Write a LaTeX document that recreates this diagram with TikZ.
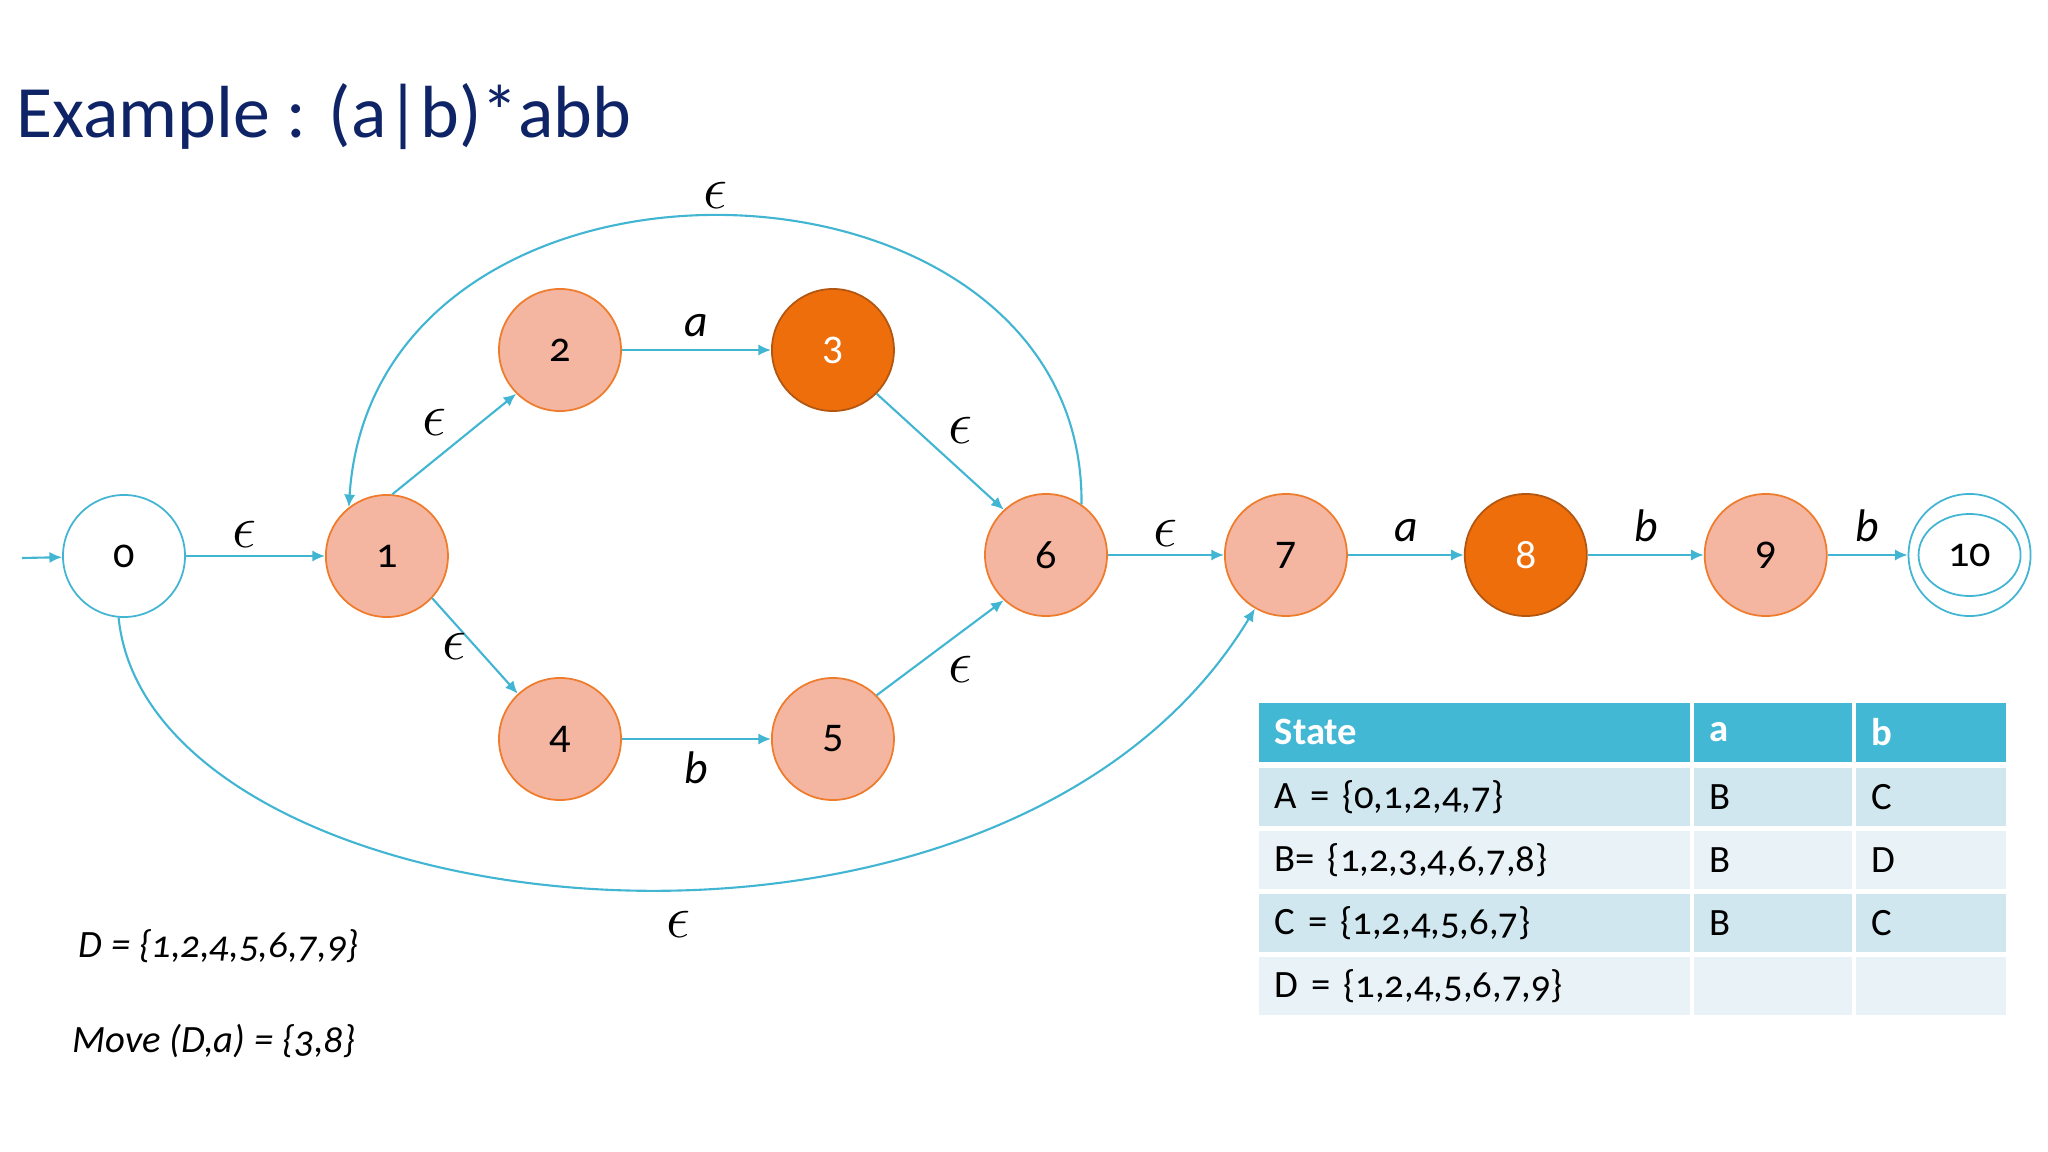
\documentclass[tikz,border=0pt]{standalone}
\usepackage{fontspec}
\setmainfont{Carlito}[Numbers=OldStyle]
\usepackage{tikz}
\usetikzlibrary{arrows.meta,positioning}

\definecolor{navy}{HTML}{0F2466}
\definecolor{linkblue}{HTML}{42B5D3}
\definecolor{nodefill}{HTML}{F4B5A1}
\definecolor{nodeedge}{HTML}{EE7C2C}
\definecolor{hotfill}{HTML}{EE6E0C}
\definecolor{hotedge}{HTML}{B3560F}
\definecolor{tblhead}{HTML}{42B8D5}
\definecolor{tbldark}{HTML}{D0E7EF}
\definecolor{tbllight}{HTML}{E9F3F7}

\begin{document}
\begin{tikzpicture}[x=0.01cm, y=-0.01cm,
        state/.style={circle, draw=nodeedge, fill=nodefill, line width=0.5pt, minimum size=1.22cm, inner sep=0pt, font=\fontsize{12}{14}\selectfont},
        hot/.style={state, draw=hotedge, fill=hotfill, text=white},
        blank/.style={state, draw=linkblue, fill=white},
        trans/.style={draw=linkblue, line width=0.6pt, -{Latex[length=3.6pt,width=3.2pt]}},
        lbl/.style={font=\fontsize{13}{15}\selectfont},
        eps/.style={font=\fontsize{17.28}{20}\selectfont, inner sep=2pt},
        note/.style={anchor=base west, inner sep=0pt, font=\fontsize{11}{14}\selectfont\itshape},
        cell/.style={anchor=north west, minimum height=0.58cm, inner xsep=0.16cm, inner ysep=0pt, align=left, font=\fontsize{11}{13}\selectfont},
        head/.style={cell, minimum height=0.59cm, fill=tblhead, text=white, font=\fontsize{11}{13}\selectfont\bfseries}
    ]
        \useasboundingbox (0,0) rectangle (2048,1152);

        % Title
        \node[anchor=base west, inner sep=0pt, text=navy, font=\fontsize{21}{25}\selectfont] (title) at (16,138) {Example : (a|b)*abb};

        % States
        \node[blank] (n0) at (124,556) {0};
        \node[state, right=1.39cm of n0] (n1) {1};
        \node[state] (n2) at (560,350) {2};
        \node[hot, right=1.49cm of n2] (n3) {3};
        \node[state] (n4) at (560,739) {4};
        \node[state, right=1.49cm of n4] (n5) {5};
        \node[state] (n6) at (1046,555) {6};
        \node[state, right=1.16cm of n6] (n7) {7};
        \node[hot, right=1.16cm of n7] (n8) {8};
        \node[state, right=1.16cm of n8] (n9) {9};
        \node[blank, right=0.80cm of n9] (n10) {10};
        \draw[linkblue, line width=0.5pt] (n10) ellipse (0.51cm and 0.41cm);

        % Transitions
        \coordinate (init) at (22,558);
        \draw[trans] (init) -- (n0);
        \draw[trans] (n0) -- node[eps, above, pos=0.42] (e01) {$\epsilon$} (n1);
        \draw[trans] (n1.85) -- node[eps, above left] (e12) {$\epsilon$} (n2.225);
        \draw[trans] (n1.-43) -- node[eps, left] (e14) {$\epsilon$} (n4.133);
        \draw[trans] (n2) -- node[lbl, above] (e23) {\textit{a}} (n3);
        \draw[trans] (n4) -- node[lbl, below] (e45) {\textit{b}} (n5);
        \draw[trans] (n3.-45) -- node[eps, above right] (e36) {$\epsilon$} (n6.133);
        \draw[trans] (n5.45) -- node[eps, below right] (e56) {$\epsilon$} (n6.227);
        \draw[trans] (n6.55) .. controls (1085,130) and (375,110) .. node[eps, above, pos=0.51] (e61) {$\epsilon$} (n1.128);
        \draw[trans] (n0.265) .. controls (150,930) and (1000,1030) .. node[eps, below=4pt, pos=0.55] (e07) {$\epsilon$} (n7.240);
        \draw[trans] (n6) -- node[eps, above] (e67) {$\epsilon$} (n7);
        \draw[trans] (n7) -- node[lbl, above] (e78) {\textit{a}} (n8);
        \draw[trans] (n8) -- node[lbl, above] (e89) {\textit{b}} (n9);
        \draw[trans] (n9) -- node[lbl, above] (e910) {\textit{b}} (n10);

        % Notes
        \node[note] (dset) at (78,957) {D = \{1,2,4,5,6,7,9\}};
        \node[note] (move) at (72,1052) {Move (D,a) = \{3,8\}};

        % Table
        \node[head, text width=3.99cm] (hst) at (1258,702) {State};
        \node[head, text width=1.26cm] (ha) at (1693,702) {a};
        \node[head, text width=1.18cm] (hb) at (1855,702) {b};

        \node[cell, fill=tbldark, text width=3.99cm] (rA) at (1258,767) {A = \{0,1,2,4,7\}};
        \node[cell, fill=tbldark, text width=1.26cm] (rAa) at (1693,767) {B};
        \node[cell, fill=tbldark, text width=1.18cm] (rAb) at (1855,767) {C};

        \node[cell, fill=tbllight, text width=3.99cm] (rB) at (1258,830) {B= \{1,2,3,4,6,7,8\}};
        \node[cell, fill=tbllight, text width=1.26cm] (rBa) at (1693,830) {B};
        \node[cell, fill=tbllight, text width=1.18cm] (rBb) at (1855,830) {D};

        \node[cell, fill=tbldark, text width=3.99cm] (rC) at (1258,893) {C = \{1,2,4,5,6,7\}};
        \node[cell, fill=tbldark, text width=1.26cm] (rCa) at (1693,893) {B};
        \node[cell, fill=tbldark, text width=1.18cm] (rCb) at (1855,893) {C};

        \node[cell, fill=tbllight, text width=3.99cm] (rD) at (1258,956) {D = \{1,2,4,5,6,7,9\}};
        \node[cell, fill=tbllight, text width=1.26cm] (rDa) at (1693,956) {};
        \node[cell, fill=tbllight, text width=1.18cm] (rDb) at (1855,956) {};
    \end{tikzpicture}
\end{document}
